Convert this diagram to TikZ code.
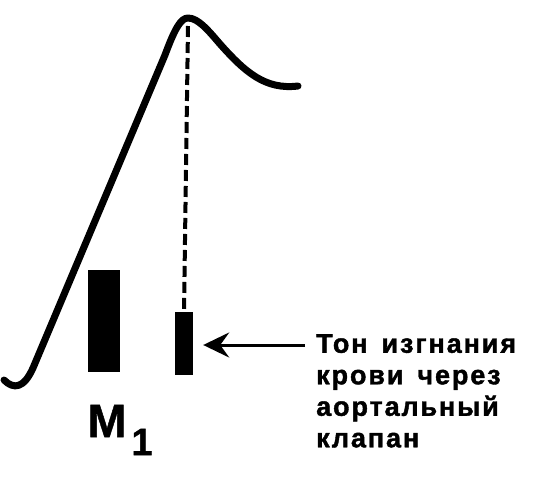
\documentclass[tikz,border=0pt]{standalone}
\usepackage{fontspec}
\setmainfont{Liberation Sans}[BoldFont={Liberation Sans Bold}]
\newfontfamily\lbl{Liberation Sans Bold}[LetterSpace=7, FakeBold=1.5]
\newfontfamily\mlbl{Liberation Sans Bold}[FakeBold=1]
\usetikzlibrary{arrows.meta}
\tikzset{
  curve/.style={line width=7pt, line cap=round, line join=round},
  guide/.style={line width=4pt, dash pattern=on 11pt off 5pt},
  bar/.style={fill=black, draw=none, inner sep=0pt},
  pointer/.style={line width=3pt, -{Stealth[length=26pt,width=25pt,inset=9pt]}},
  caption/.style={font=\lbl\fontsize{27}{31.5}\selectfont, align=left, inner sep=0pt, anchor=north west}
}
\begin{document}
\begin{tikzpicture}[x=1pt,y=-1pt]
\useasboundingbox (0,0) rectangle (536,480);
% curve
\draw[curve] (4,380) .. controls (14,390) and (24,388) .. (33,368)
  -- (165,55) .. controls (175,28) and (181,18) .. (188,18)
  .. controls (198,18) and (208,30) .. (220,44)
  .. controls (245,72) and (265,90) .. (298,86);
% bars
\node[bar, minimum width=32pt, minimum height=102pt] (b1) at (104,321) {};
\node[bar, minimum width=18pt, minimum height=63pt] (b2) at (184,343.5) {};
\coordinate (peak) at (188,26);
\draw[guide] (peak) -- (b2.north);
% label M1
\node[font=\mlbl\fontsize{47}{47}\selectfont, inner sep=0pt] (m) at (107,421) {M};
\node[font=\mlbl\fontsize{38}{38}\selectfont, inner sep=0pt] (one) at (142,442) {1};
% caption
\node[caption] (txt) at (316,334) {Тон\hspace{14pt}изгнания\\крови\hspace{14pt}через\\аортальный\\клапан};
\coordinate (a0) at (305,345);
\draw[pointer, shorten >=10pt] (a0) -- (b2.east |- a0);
\end{tikzpicture}
\end{document}
